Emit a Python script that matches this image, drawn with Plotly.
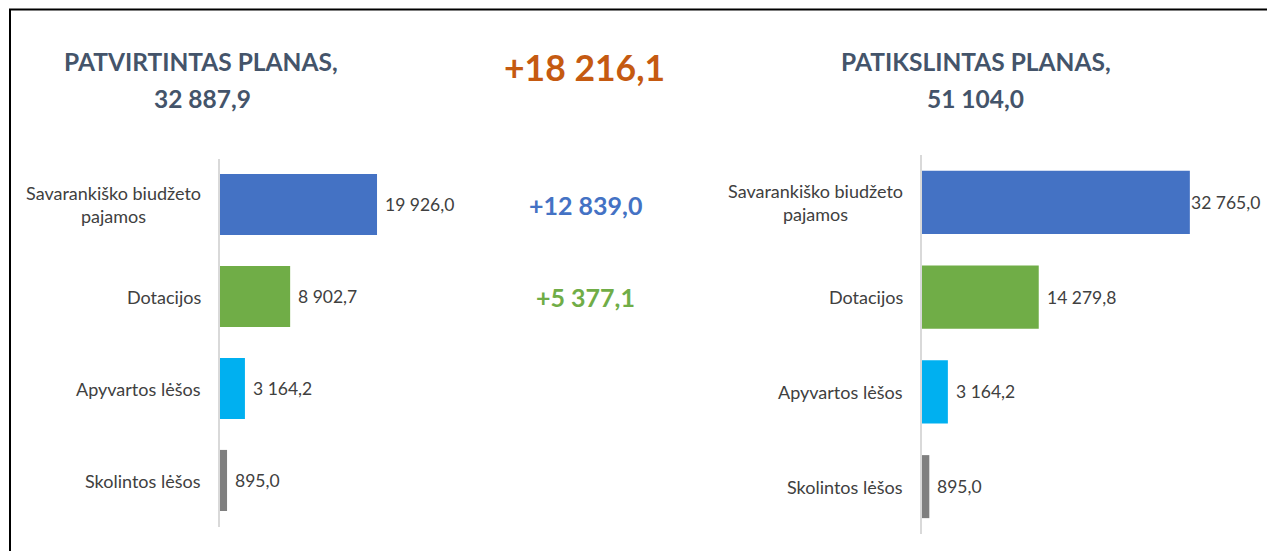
import plotly.graph_objects as go

# page body has an 8px margin: the figure is placed at (8, 8) in the window
OFF = 8
W, H = 1275 - OFF, 551 - OFF

categories = ["Savarankiško biudžeto<br>pajamos", "Dotacijos", "Apyvartos lėšos", "Skolintos lėšos"]
approved_values = [19926.0, 8902.7, 3164.2, 895.0]
revised_values = [32765.0, 14279.8, 3164.2, 895.0]
value_labels_left = ["19 926,0", "8 902,7", "3 164,2", "895,0"]
value_labels_right = ["32 765,0", "14 279,8", "3 164,2", "895,0"]
bar_colors = ["#4472C4", "#70AD47", "#00B0F0", "#7F7F7F"]

title_left = ["PATVIRTINTAS PLANAS,", "32 887,9"]
title_right = ["PATIKSLINTAS PLANAS,", "51 104,0"]
total_diff = "+18 216,1"
item_diffs = ["+12 839,0", "+5 377,1"]
item_diff_colors = ["#4472C4", "#70AD47"]

FONT = "Lato"
TXT = "#404040"
TITLE_C = "#44546A"
LBL_SIZE = 18
VAL_SIZE = 17.5


def px_x(p):
    return (p - OFF) / W


def px_y(p):
    return (H - (p - OFF)) / H


fig = go.Figure()

fig.add_trace(go.Bar(
    y=categories, x=approved_values, orientation="h",
    marker=dict(color=bar_colors, line=dict(width=0)),
    xaxis="x", yaxis="y", hoverinfo="skip", showlegend=False,
))
fig.add_trace(go.Bar(
    y=categories, x=revised_values, orientation="h",
    marker=dict(color=bar_colors, line=dict(width=0)),
    xaxis="x2", yaxis="y2", hoverinfo="skip", showlegend=False,
))

axis_common = dict(showgrid=False, zeroline=False, showticklabels=False, ticks="")
ycommon = dict(type="category", autorange=False, range=[3.5, -0.5], showgrid=False,
               zeroline=False, showticklabels=False, ticks="", showline=True,
               linecolor="#D9D9D9", linewidth=1.5)

fig.update_layout(
    width=W, height=H,
    margin=dict(l=0, r=0, t=0, b=0),
    paper_bgcolor="white", plot_bgcolor="rgba(0,0,0,0)",
    bargap=0.335,
    xaxis=dict(domain=[px_x(220), px_x(417)], range=[0, 25000], anchor="y", **axis_common),
    yaxis=dict(domain=[px_y(526.5), px_y(158.5)], anchor="x", **ycommon),
    xaxis2=dict(domain=[px_x(922), px_x(1249)], range=[0, 40000], anchor="y2", **axis_common),
    yaxis2=dict(domain=[px_y(534), px_y(155)], anchor="x2", **ycommon),
    font=dict(family=FONT, color=TXT),
)

ann = []
# category labels
for yref, xpos in (("y", 203), ("y2", 905)):
    for c in categories:
        ann.append(dict(xref="paper", yref=yref, x=px_x(xpos), y=c, text=c,
                        xanchor="right", yanchor="middle", align="center",
                        showarrow=False, font=dict(family=FONT, size=LBL_SIZE, color=TXT)))
# value labels
for c, v, t in zip(categories, approved_values, value_labels_left):
    ann.append(dict(xref="x", yref="y", x=v, y=c, text=t, xanchor="left", yanchor="middle",
                    xshift=6, showarrow=False, font=dict(family=FONT, size=VAL_SIZE, color=TXT)))
for i, (c, v, t) in enumerate(zip(categories, revised_values, value_labels_right)):
    ann.append(dict(xref="x2", yref="y2", x=v, y=c, text=t, xanchor="left", yanchor="middle",
                    xshift=-1 if i == 0 else 6, showarrow=False,
                    font=dict(family=FONT, size=VAL_SIZE, color=TXT)))

title_font = dict(family=FONT, size=24.5, color=TITLE_C, weight="bold")
# titles
ann.append(dict(xref="paper", yref="paper", x=px_x(201), y=px_y(62), text=title_left[0],
                xanchor="center", yanchor="middle", showarrow=False, font=title_font))
ann.append(dict(xref="paper", yref="paper", x=px_x(202), y=px_y(98.5), text=title_left[1],
                xanchor="center", yanchor="middle", showarrow=False, font=title_font))
ann.append(dict(xref="paper", yref="paper", x=px_x(976), y=px_y(62), text=title_right[0],
                xanchor="center", yanchor="middle", showarrow=False, font=title_font))
ann.append(dict(xref="paper", yref="paper", x=px_x(975), y=px_y(98.5), text=title_right[1],
                xanchor="center", yanchor="middle", showarrow=False, font=title_font))

# differences
ann.append(dict(xref="paper", yref="paper", x=px_x(584), y=px_y(67.5), text=total_diff,
                xanchor="center", yanchor="middle", showarrow=False,
                font=dict(family=FONT, size=35.5, color="#C55A11", weight="bold")))
for i in range(2):
    ann.append(dict(xref="paper", yref="y", x=px_x(585), y=categories[i], text=item_diffs[i],
                    xanchor="center", yanchor="middle", showarrow=False,
                    font=dict(family=FONT, size=25, color=item_diff_colors[i], weight="bold")))

fig.update_layout(annotations=ann)

# frame
fig.add_shape(type="rect", xref="paper", yref="paper",
              x0=px_x(10), x1=px_x(1268.5), y0=px_y(9.5), y1=-0.05,
              line=dict(color="black", width=2), fillcolor="rgba(0,0,0,0)", layer="above")

fig.write_html("out.html")
